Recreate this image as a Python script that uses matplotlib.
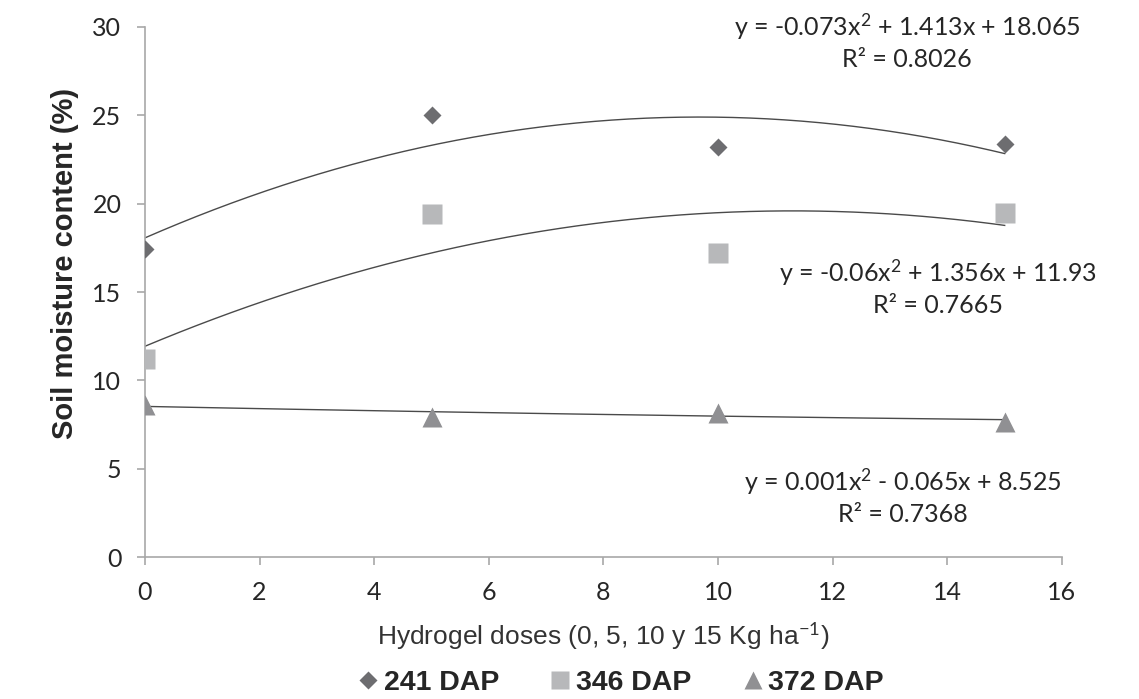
import numpy as np
import matplotlib.pyplot as plt
from matplotlib.lines import Line2D

# Data
doses = [0, 5, 10, 15]
dap241 = [17.45, 25.0, 23.2, 23.35]
dap346 = [11.2, 19.4, 17.2, 19.45]
dap372 = [8.6, 7.95, 8.15, 7.65]

# Trendline coefficients (as printed on the chart: a*x^2 + b*x + c)
fit241 = [-0.073, 1.413, 18.065]
fit346 = [-0.06, 1.356, 11.93]
fit372 = [0.001, -0.065, 8.525]

eq_labels = [
    "y = -0.073x$^2$ + 1.413x + 18.065\nR² = 0.8026",
    "y = -0.06x$^2$ + 1.356x + 11.93\nR² = 0.7665",
    "y = 0.001x$^2$ - 0.065x + 8.525\nR² = 0.7368",
]

c241 = '#6d6d70'
c346 = '#b7b8ba'
c372 = '#909093'
txt = '#262626'
axcol = '#a8a8a8'

plt.rcParams['mathtext.fontset'] = 'custom'
plt.rcParams['mathtext.rm'] = 'Lato'
plt.rcParams['mathtext.it'] = 'Lato:italic'

fig = plt.figure(figsize=(11.39, 6.99), dpi=100)
ax = fig.add_axes([0.1273, 0.2031, 0.8051, 0.7583])

xs = np.linspace(0, 15, 200)
for coef in (fit241, fit346, fit372):
    ax.plot(xs, np.polyval(coef, xs), '-', color='#4a4a4a', lw=1.0, zorder=2)

ax.plot(doses, dap241, 'D', color=c241, ms=9.5, mec='none', zorder=3)
ax.plot(doses, dap346, 's', color=c346, ms=14, mec='none', zorder=3)
ax.plot(doses, dap372, '^', color=c372, ms=14, mec='none', zorder=3)

ax.set_xlim(0, 16)
ax.set_ylim(0, 30)
ax.set_xticks(range(0, 17, 2))
ax.set_yticks(range(0, 31, 5))

for s in ('top', 'right'):
    ax.spines[s].set_visible(False)
for s in ('left', 'bottom'):
    ax.spines[s].set_color(axcol)
    ax.spines[s].set_linewidth(1.2)
ax.tick_params(axis='both', colors=axcol, length=6, width=1.2, labelsize=18,
               labelcolor=txt)
ax.tick_params(axis='x', pad=11)
ax.tick_params(axis='y', pad=11)
for lab in ax.get_xticklabels() + ax.get_yticklabels():
    lab.set_family('Lato')

ax.set_ylabel('Soil moisture content (%)', fontsize=21, fontweight='bold',
              family='Liberation Sans', color=txt)
ax.yaxis.set_label_coords(-66 / 917, (557 - 263) / 530)
ax.set_xlabel('Hydrogel doses (0, 5, 10 y 15 Kg ha$^{-1}$)', fontsize=19,
              family='Liberation Sans', color='#333333', labelpad=12)

eq_pos = [(907, 41), (938, 287), (903, 496)]
for (px, py), s in zip(eq_pos, eq_labels):
    fig.text(px / 1139, 1 - py / 699, s, ha='center', va='center', fontsize=18,
             family='Lato', color=txt, linespacing=1.3)

handles = [
    Line2D([], [], marker='D', ls='none', color=c241, ms=9.5, mec='none'),
    Line2D([], [], marker='s', ls='none', color=c346, ms=13, mec='none'),
    Line2D([], [], marker='^', ls='none', color=c372, ms=13, mec='none'),
]
fig.legend(handles, ['241 DAP', '346 DAP', '372 DAP'], loc='center',
           bbox_to_anchor=(619 / 1139, 1 - 683 / 699), ncol=3, frameon=False,
           prop={'family': 'Liberation Sans', 'weight': 'bold', 'size': 20.5},
           handletextpad=0.05, columnspacing=1.65, handlelength=1.0,
           labelcolor=txt)

fig.savefig('out.png', dpi=100)
